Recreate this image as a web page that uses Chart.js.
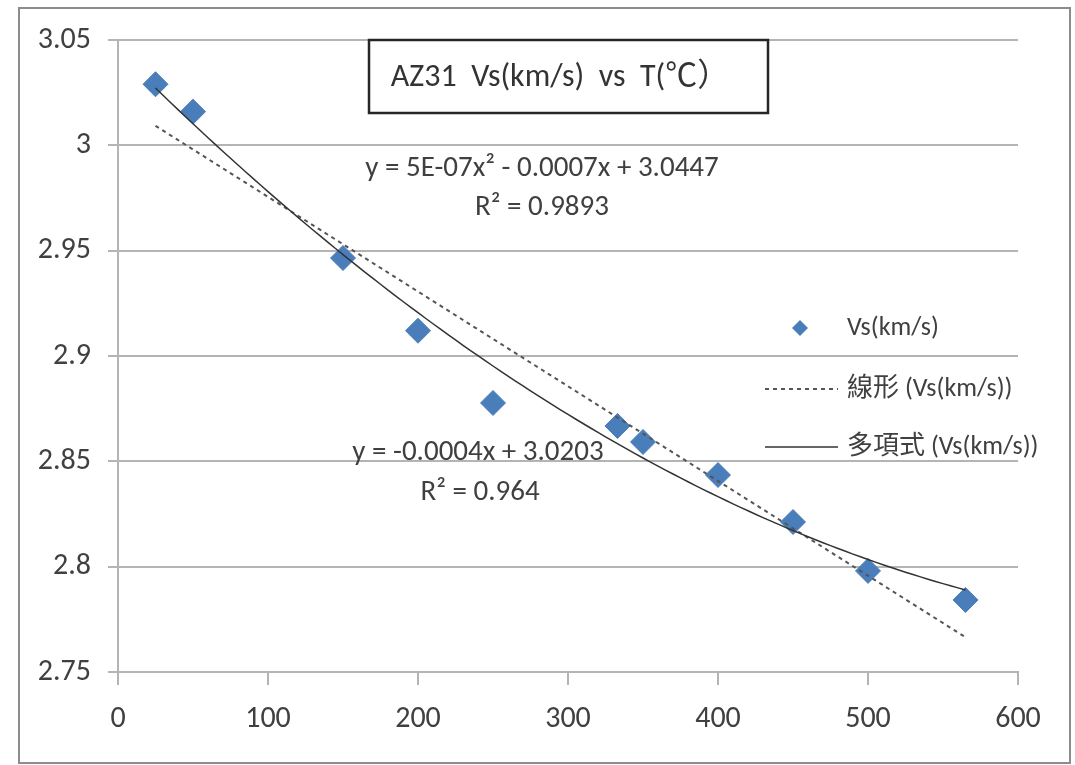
<!DOCTYPE html>
<html>
<head>
<meta charset="utf-8">
<script src="https://cdn.jsdelivr.net/npm/chart.js@4.4.0/dist/chart.umd.min.js"></script>
<style>
  html, body { margin: 0; padding: 0; background: #fff; }
  #wrap { width: 1075px; height: 765px; }
</style>
</head>
<body>
<div id="wrap"><canvas id="chart" width="1075" height="765"></canvas></div>
<script>
// ===============================
// DATA
// ===============================
const temps = [25, 50, 150, 200, 250, 333, 350, 400, 450, 500, 565];
const vsValues = [3.029, 3.016, 2.9465, 2.912, 2.8777, 2.8668, 2.8592, 2.8435, 2.8212, 2.798, 2.7842];
const xTicks = [0, 100, 200, 300, 400, 500, 600];
const yTicks = [2.75, 2.8, 2.85, 2.9, 2.95, 3, 3.05];
const seriesLabels = ['Vs(km/s)', '線形 (Vs(km/s))', '多項式 (Vs(km/s))'];
const chartTitle = 'AZ31  Vs(km/s)  vs  T(℃）';
const linEquation = ['y = -0.0004x + 3.0203', 'R² = 0.964'];
const polyEquation = ['y = 5E-07x² - 0.0007x + 3.0447', 'R² = 0.9893'];

const FONT = "Carlito, 'Liberation Sans', 'Noto Sans CJK TC', sans-serif";
const TEXT = '#404040';
const BLUE = '#4A7EBB';
const GRID = '#b4b4b4';

// ===============================
// TRENDLINES (least squares from the data)
// ===============================
function linearFit(xs, ys) {
    const n = xs.length;
    const mx = xs.reduce((a, b) => a + b, 0) / n;
    const my = ys.reduce((a, b) => a + b, 0) / n;
    let sxy = 0, sxx = 0;
    for (let i = 0; i < n; i++) {
        sxy += (xs[i] - mx) * (ys[i] - my);
        sxx += (xs[i] - mx) * (xs[i] - mx);
    }
    const b = sxy / sxx;
    return { a: my - b * mx, b: b };
}

function quadFit(xs, ys) {
    // normal equations for y = c0 + c1 x + c2 x^2
    const S = [0, 0, 0, 0, 0];
    const T = [0, 0, 0];
    for (let i = 0; i < xs.length; i++) {
        let p = 1;
        for (let k = 0; k < 5; k++) { S[k] += p; if (k < 3) T[k] += p * ys[i]; p *= xs[i]; }
    }
    const M = [[S[0], S[1], S[2], T[0]], [S[1], S[2], S[3], T[1]], [S[2], S[3], S[4], T[2]]];
    for (let c = 0; c < 3; c++) {
        for (let r = c + 1; r < 3; r++) {
            const f = M[r][c] / M[c][c];
            for (let k = c; k < 4; k++) M[r][k] -= f * M[c][k];
        }
    }
    const res = [0, 0, 0];
    for (let r = 2; r >= 0; r--) {
        let s = M[r][3];
        for (let k = r + 1; k < 3; k++) s -= M[r][k] * res[k];
        res[r] = s / M[r][r];
    }
    return res;
}

const lin = linearFit(temps, vsValues);
const quad = quadFit(temps, vsValues);
const xMin = Math.min(...temps), xMax = Math.max(...temps);

const linPoints = [xMin, xMax].map(x => ({ x: x, y: lin.a + lin.b * x }));
const quadPoints = [];
for (let x = xMin; x <= xMax; x += 5) {
    quadPoints.push({ x: x, y: quad[0] + quad[1] * x + quad[2] * x * x });
}

// ===============================
// DECORATIONS (border, title box, equations, legend)
// ===============================
const decorPlugin = {
    id: 'decor',
    afterDraw(chart) {
        const ctx = chart.ctx;
        ctx.save();

        // outer frame
        ctx.strokeStyle = '#8c8c8c';
        ctx.lineWidth = 2;
        ctx.strokeRect(19, 8, 1051, 755);

        // title box
        ctx.fillStyle = '#fff';
        ctx.fillRect(369, 40, 399, 73);
        ctx.strokeStyle = '#262626';
        ctx.lineWidth = 2.5;
        ctx.strokeRect(369, 40, 399, 73);
        ctx.fillStyle = '#333';
        ctx.font = '32px ' + FONT;
        ctx.textAlign = 'center';
        ctx.textBaseline = 'middle';
        ctx.fillText(chartTitle, 560, 78);

        // trendline equations
        ctx.fillStyle = TEXT;
        ctx.font = '29px ' + FONT;
        ctx.fillText(polyEquation[0], 542, 169);
        ctx.fillText(polyEquation[1], 542, 208);
        ctx.fillText(linEquation[0], 478, 453);
        ctx.fillText(linEquation[1], 480, 493);

        // legend
        ctx.textAlign = 'left';
        ctx.font = '26px ' + FONT;
        const ds = chart.data.datasets;
        // markers
        ctx.fillStyle = BLUE;
        ctx.beginPath();
        ctx.moveTo(800, 320); ctx.lineTo(808, 328); ctx.lineTo(800, 336); ctx.lineTo(792, 328);
        ctx.closePath();
        ctx.fill();
        ctx.strokeStyle = ds[1].borderColor;
        ctx.lineWidth = ds[1].borderWidth;
        ctx.setLineDash(ds[1].borderDash);
        ctx.beginPath(); ctx.moveTo(765, 389); ctx.lineTo(838, 389); ctx.stroke();
        ctx.setLineDash([]);
        ctx.strokeStyle = ds[2].borderColor;
        ctx.lineWidth = ds[2].borderWidth;
        ctx.beginPath(); ctx.moveTo(765, 447); ctx.lineTo(838, 447); ctx.stroke();
        ctx.fillStyle = TEXT;
        ctx.fillText(ds[0].label, 847, 328);
        ctx.fillText(ds[1].label, 847, 389);
        ctx.fillText(ds[2].label, 847, 447);

        ctx.restore();
    }
};

// ===============================
// CHART
// ===============================
const ctx = document.getElementById('chart').getContext('2d');
new Chart(ctx, {
    type: 'scatter',
    data: {
        datasets: [
            {
                label: seriesLabels[0],
                data: temps.map((t, i) => ({ x: t, y: vsValues[i] })),
                pointStyle: 'rectRot',
                pointRadius: 12.5,
                pointHoverRadius: 12.5,
                backgroundColor: BLUE,
                borderColor: BLUE,
                borderWidth: 1,
                order: 3
            },
            {
                label: seriesLabels[1],
                type: 'line',
                data: linPoints,
                borderColor: '#555',
                borderWidth: 2,
                borderDash: [4, 4],
                pointRadius: 0,
                fill: false,
                order: 2
            },
            {
                label: seriesLabels[2],
                type: 'line',
                data: quadPoints,
                borderColor: '#333',
                borderWidth: 1.5,
                pointRadius: 0,
                tension: 0,
                fill: false,
                order: 1
            }
        ]
    },
    options: {
        responsive: false,
        devicePixelRatio: 1,
        animation: false,
        layout: { padding: { top: 40, right: 57, left: 0, bottom: 0 } },
        plugins: {
            legend: { display: false },
            tooltip: { enabled: false },
            title: { display: false }
        },
        scales: {
            x: {
                type: 'linear',
                min: 0,
                max: 600,
                afterBuildTicks: s => { s.ticks = xTicks.map(v => ({ value: v })); },
                afterFit: s => { s.height = 93; },
                ticks: {
                    color: TEXT,
                    font: { family: FONT, size: 30 },
                    padding: 16,
                    maxRotation: 0
                },
                grid: {
                    drawOnChartArea: false,
                    drawTicks: true,
                    tickLength: 13,
                    tickColor: GRID,
                    lineWidth: 2
                },
                border: { display: true, color: GRID, width: 2 }
            },
            y: {
                type: 'linear',
                min: 2.75,
                max: 3.05,
                afterBuildTicks: s => { s.ticks = yTicks.map(v => ({ value: v })); },
                afterFit: s => { s.width = 118; },
                ticks: {
                    color: TEXT,
                    font: { family: FONT, size: 30 },
                    padding: 17,
                    callback: v => String(+v.toFixed(2))
                },
                grid: {
                    color: GRID,
                    lineWidth: 2,
                    tickLength: 10,
                    tickColor: GRID
                },
                border: { display: true, color: GRID, width: 2 }
            }
        }
    },
    plugins: [decorPlugin]
});
</script>
</body>
</html>
